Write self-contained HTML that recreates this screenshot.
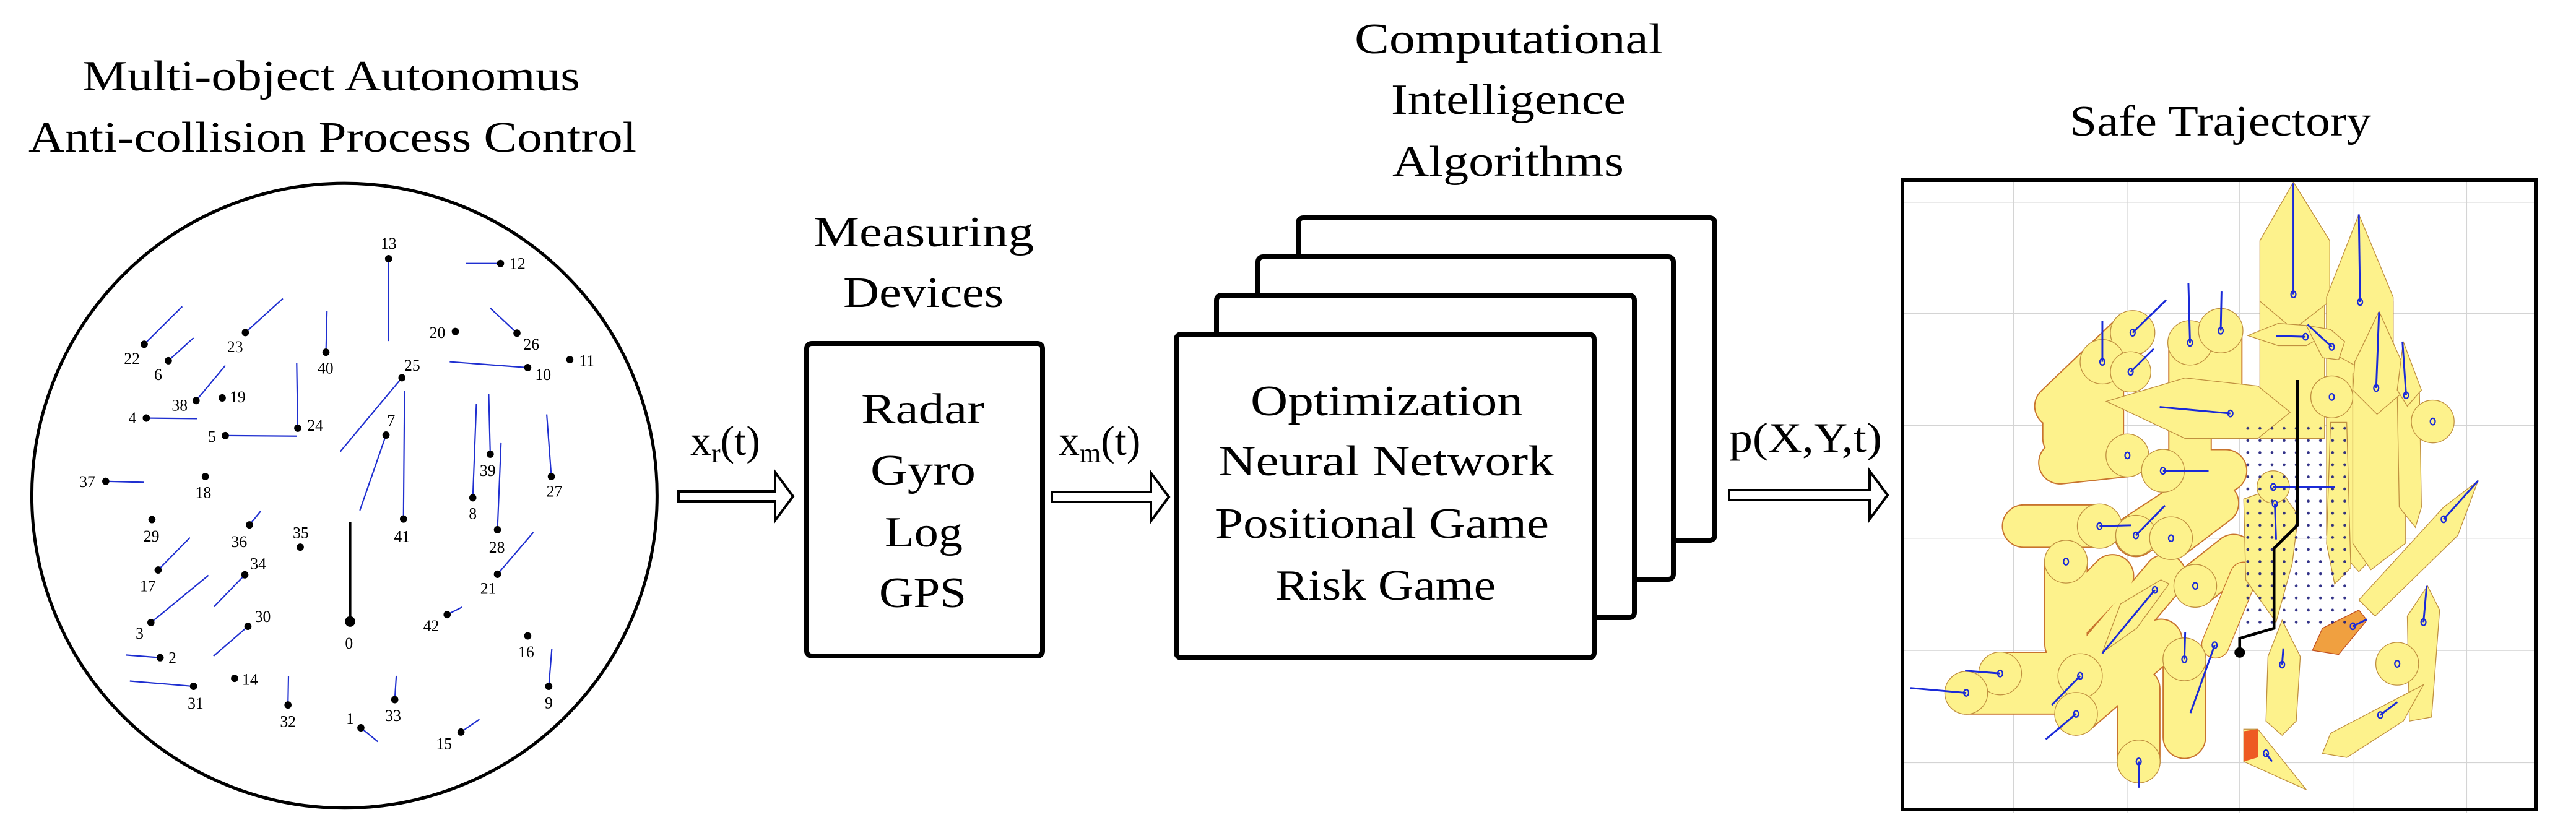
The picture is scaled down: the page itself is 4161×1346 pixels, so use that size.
<!DOCTYPE html>
<html><head><meta charset="utf-8"><style>html,body{margin:0;padding:0;background:#fff}svg{display:block}</style></head>
<body>
<svg width="4161" height="1346" viewBox="0 0 4161 1346" xmlns="http://www.w3.org/2000/svg" font-family="'Liberation Serif', serif">
<rect width="4161" height="1346" fill="#fff"/>
<!-- Titles -->
<g font-size="70" fill="#000" text-anchor="start">
<text x="133" y="146" textLength="804" lengthAdjust="spacingAndGlyphs">Multi-object Autonomus</text>
<text x="46" y="245" textLength="982" lengthAdjust="spacingAndGlyphs">Anti-collision Process Control</text>
<text x="1314" y="398" textLength="356" lengthAdjust="spacingAndGlyphs">Measuring</text>
<text x="1362" y="496" textLength="259" lengthAdjust="spacingAndGlyphs">Devices</text>
<text x="2188" y="86" textLength="498" lengthAdjust="spacingAndGlyphs">Computational</text>
<text x="2247" y="184" textLength="379" lengthAdjust="spacingAndGlyphs">Intelligence</text>
<text x="2249" y="284" textLength="374" lengthAdjust="spacingAndGlyphs">Algorithms</text>
<text x="3343" y="219" textLength="487" lengthAdjust="spacingAndGlyphs">Safe Trajectory</text>
</g>

<!-- Left circle diagram -->
<g transform="scale(0.8292,0.8584)">
<ellipse cx="671" cy="933" rx="609" ry="588" fill="none" stroke="#000" stroke-width="6"/>
<g stroke="#1f2fd0" stroke-width="2.6" fill="none">
<line x1="757" y1="487" x2="757" y2="642"/>
<line x1="975" y1="496" x2="907" y2="496"/>
<line x1="281" y1="648" x2="355" y2="577"/>
<line x1="328" y1="679" x2="377" y2="636"/>
<line x1="478" y1="626" x2="551" y2="562"/>
<line x1="635" y1="663" x2="637" y2="586"/>
<line x1="1007" y1="627" x2="955" y2="580"/>
<line x1="1028" y1="692" x2="876" y2="681"/>
<line x1="783" y1="711" x2="663" y2="850"/>
<line x1="382" y1="754" x2="439" y2="688"/>
<line x1="285" y1="787" x2="384" y2="788"/>
<line x1="580" y1="806" x2="578" y2="683"/>
<line x1="439" y1="820" x2="578" y2="821"/>
<line x1="752" y1="819" x2="701" y2="961"/>
<line x1="786" y1="977" x2="788" y2="736"/>
<line x1="955" y1="855" x2="952" y2="742"/>
<line x1="921" y1="937" x2="928" y2="760"/>
<line x1="1074" y1="897" x2="1065" y2="780"/>
<line x1="969" y1="997" x2="976" y2="834"/>
<line x1="206" y1="906" x2="280" y2="908"/>
<line x1="486" y1="988" x2="508" y2="962"/>
<line x1="308" y1="1073" x2="370" y2="1012"/>
<line x1="477" y1="1082" x2="417" y2="1142"/>
<line x1="969" y1="1081" x2="1039" y2="1002"/>
<line x1="294" y1="1172" x2="406" y2="1083"/>
<line x1="483" y1="1179" x2="416" y2="1235"/>
<line x1="871" y1="1157" x2="900" y2="1143"/>
<line x1="312" y1="1238" x2="245" y2="1233"/>
<line x1="377" y1="1292" x2="253" y2="1282"/>
<line x1="561" y1="1327" x2="562" y2="1273"/>
<line x1="769" y1="1317" x2="772" y2="1272"/>
<line x1="1069" y1="1292" x2="1075" y2="1221"/>
<line x1="703" y1="1370" x2="736" y2="1396"/>
<line x1="898" y1="1378" x2="934" y2="1354"/>
</g>
<line x1="682" y1="1170" x2="682" y2="982" stroke="#000" stroke-width="5"/>
<g fill="#000">
<circle cx="757" cy="487" r="7"/><circle cx="975" cy="496" r="7"/><circle cx="281" cy="648" r="7"/>
<circle cx="328" cy="679" r="7"/><circle cx="478" cy="626" r="7"/><circle cx="635" cy="663" r="7"/>
<circle cx="887" cy="624" r="7"/><circle cx="1007" cy="627" r="7"/><circle cx="1110" cy="677" r="7"/>
<circle cx="1028" cy="692" r="7"/><circle cx="783" cy="711" r="7"/><circle cx="382" cy="754" r="7"/>
<circle cx="433" cy="749" r="7"/><circle cx="285" cy="787" r="7"/><circle cx="580" cy="806" r="7"/>
<circle cx="439" cy="820" r="7"/><circle cx="752" cy="819" r="7"/><circle cx="786" cy="977" r="7"/>
<circle cx="955" cy="855" r="7"/><circle cx="921" cy="937" r="7"/><circle cx="1074" cy="897" r="7"/>
<circle cx="969" cy="997" r="7"/><circle cx="206" cy="906" r="7"/><circle cx="400" cy="897" r="7"/>
<circle cx="296" cy="978" r="7"/><circle cx="486" cy="988" r="7"/><circle cx="585" cy="1030" r="7"/>
<circle cx="308" cy="1073" r="7"/><circle cx="477" cy="1082" r="7"/><circle cx="969" cy="1081" r="7"/>
<circle cx="682" cy="1170" r="10"/><circle cx="294" cy="1172" r="7"/><circle cx="483" cy="1179" r="7"/>
<circle cx="871" cy="1157" r="7"/><circle cx="1028" cy="1197" r="7"/><circle cx="312" cy="1238" r="7"/>
<circle cx="457" cy="1277" r="7"/><circle cx="377" cy="1292" r="7"/><circle cx="561" cy="1327" r="7"/>
<circle cx="769" cy="1317" r="7"/><circle cx="1069" cy="1292" r="7"/><circle cx="703" cy="1370" r="7"/>
<circle cx="898" cy="1378" r="7"/>
</g>
<g font-size="31" fill="#000" text-anchor="middle" dominant-baseline="central">
<text x="757" y="458">13</text><text x="1008" y="496">12</text><text x="257" y="675">22</text>
<text x="308" y="705">6</text><text x="458" y="653">23</text><text x="634" y="693">40</text>
<text x="852" y="626">20</text><text x="1035" y="648">26</text><text x="1143" y="679">11</text>
<text x="1058" y="705">10</text><text x="803" y="688">25</text><text x="350" y="763">38</text>
<text x="463" y="747">19</text><text x="258" y="787">4</text><text x="614" y="801">24</text>
<text x="413" y="822">5</text><text x="762" y="792">7</text><text x="783" y="1010">41</text>
<text x="950" y="886">39</text><text x="921" y="967">8</text><text x="1080" y="925">27</text>
<text x="968" y="1030">28</text><text x="170" y="907">37</text><text x="396" y="927">18</text>
<text x="295" y="1009">29</text><text x="466" y="1020">36</text><text x="586" y="1003">35</text>
<text x="288" y="1103">17</text><text x="503" y="1061">34</text><text x="951" y="1108">21</text>
<text x="680" y="1211">0</text><text x="272" y="1192">3</text><text x="512" y="1161">30</text>
<text x="840" y="1178">42</text><text x="1025" y="1227">16</text><text x="336" y="1238">2</text>
<text x="487" y="1279">14</text><text x="381" y="1324">31</text><text x="561" y="1358">32</text>
<text x="766" y="1347">33</text><text x="1069" y="1323">9</text><text x="682" y="1353">1</text>
<text x="865" y="1400">15</text>
</g>
</g>

<!-- Arrows -->
<g fill="#fff" stroke="#000" stroke-width="4" stroke-linejoin="miter">
<polygon points="1096,794 1252,794 1252,763 1281,802 1252,841 1252,810 1096,810"/>
<polygon points="1699,795 1859,795 1859,764 1888,803 1859,842 1859,811 1699,811"/>
<polygon points="2793,792 3020,792 3020,761 3049,800 3020,839 3020,808 2793,808"/>
</g>
<g font-size="68" fill="#000">
<text x="1115" y="735">x<tspan font-size="44" dy="12">r</tspan><tspan dy="-12">(t)</tspan></text>
<text x="1710" y="735">x<tspan font-size="44" dy="12">m</tspan><tspan dy="-12">(t)</tspan></text>
<text x="2793" y="730" textLength="247" lengthAdjust="spacingAndGlyphs">p(X,Y,t)</text>
</g>

<!-- Measuring box -->
<rect x="1303" y="555" width="381" height="505" rx="8" fill="#fff" stroke="#000" stroke-width="8"/>
<g font-size="70" fill="#000">
<text x="1391" y="684" textLength="199" lengthAdjust="spacingAndGlyphs">Radar</text>
<text x="1406" y="783" textLength="170" lengthAdjust="spacingAndGlyphs">Gyro</text>
<text x="1429" y="883" textLength="126" lengthAdjust="spacingAndGlyphs">Log</text>
<text x="1420" y="981" textLength="141" lengthAdjust="spacingAndGlyphs">GPS</text>
</g>

<!-- Stacked boxes -->
<g fill="#fff" stroke="#000" stroke-width="8">
<rect x="2097" y="352" width="673" height="521" rx="8"/>
<rect x="2032" y="415" width="671" height="521" rx="8"/>
<rect x="1965" y="477" width="675" height="521" rx="8"/>
<rect x="1900" y="540" width="675" height="523" rx="8"/>
</g>
<g font-size="70" fill="#000">
<text x="2020" y="671" textLength="440" lengthAdjust="spacingAndGlyphs">Optimization</text>
<text x="1968" y="768" textLength="542" lengthAdjust="spacingAndGlyphs">Neural Network</text>
<text x="1963" y="869" textLength="539" lengthAdjust="spacingAndGlyphs">Positional Game</text>
<text x="2060" y="969" textLength="356" lengthAdjust="spacingAndGlyphs">Risk Game</text>
</g>

<!-- Plot -->
<g transform="translate(3073,291) scale(0.6524)">
<defs>
<pattern id="dots" width="30" height="30" patternUnits="userSpaceOnUse"><circle cx="15" cy="15" r="3.5" fill="#1a1a7a"/></pattern>
</defs>
<g stroke="#d4d4d4" stroke-width="2">
<line x1="275" y1="0" x2="275" y2="1568"/><line x1="558" y1="0" x2="558" y2="1568"/>
<line x1="835" y1="0" x2="835" y2="1568"/><line x1="1118" y1="0" x2="1118" y2="1568"/>
<line x1="1397" y1="0" x2="1397" y2="1568"/>
<line x1="0" y1="55" x2="1568" y2="55"/><line x1="0" y1="330" x2="1568" y2="330"/>
<line x1="0" y1="608" x2="1568" y2="608"/><line x1="0" y1="887" x2="1568" y2="887"/>
<line x1="0" y1="1165" x2="1568" y2="1165"/><line x1="0" y1="1443" x2="1568" y2="1443"/>
</g>
<!-- stacks (capsules) -->
<g stroke-linecap="round" fill="none">
<g stroke="#c8742e" stroke-width="108">
<path d="M570 378 L380 560"/><path d="M495 450 L495 640"/><path d="M712 403 L712 680"/><path d="M788 373 L788 520"/>
<path d="M400 560 L400 640"/>
<path d="M557 682 L390 700"/><path d="M645 720 L800 720"/><path d="M488 857 L300 857"/>
<path d="M405 945 L405 1150"/><path d="M440 1228 L650 980"/><path d="M158 1270 L420 1270"/>
<path d="M242 1222 L420 1222"/><path d="M585 1440 L585 1260"/><path d="M698 1187 L698 1380"/>
<path d="M430 1322 L640 1140"/><path d="M578 880 L700 800"/><path d="M665 887 L780 800"/>
<path d="M725 1005 L820 930"/><path d="M405 1100 L520 980"/>
</g>
<g stroke="#fdf28c" stroke-width="102">
<path d="M570 378 L380 560"/><path d="M495 450 L495 640"/><path d="M712 403 L712 680"/><path d="M788 373 L788 520"/>
<path d="M400 560 L400 640"/>
<path d="M557 682 L390 700"/><path d="M645 720 L800 720"/><path d="M488 857 L300 857"/>
<path d="M405 945 L405 1150"/><path d="M440 1228 L650 980"/><path d="M158 1270 L420 1270"/>
<path d="M242 1222 L420 1222"/><path d="M585 1440 L585 1260"/><path d="M698 1187 L698 1380"/>
<path d="M430 1322 L640 1140"/><path d="M578 880 L700 800"/><path d="M665 887 L780 800"/>
<path d="M725 1005 L820 930"/><path d="M405 1100 L520 980"/>
</g>
<path d="M775 1150 L845 980" stroke="#c8742e" stroke-width="70"/>
<path d="M775 1150 L845 980" stroke="#fdf28c" stroke-width="66"/>
</g>
<!-- spindles -->
<g fill="#fdf28c" stroke="#c09040" stroke-width="2">
<polygon points="885,300 1045,300 1045,640 885,640"/>
<polygon points="1050,300 1215,300 1215,880 1130,970 1050,880"/>
<polygon points="1115,480 1245,480 1245,900 1160,965 1115,900"/>
<polygon points="1225,520 1280,520 1285,810 1270,860 1230,810"/>
<polygon points="968,5 1058,150 1058,300 968,370 885,300 885,150"/>
<polygon points="1130,85 1215,290 1215,420 1140,470 1050,420 1050,290"/>
<polygon points="1180,325 1245,470 1245,520 1175,580 1115,520 1120,450"/>
<polygon points="1240,400 1285,520 1250,560 1225,520"/>
<polygon points="505,548 700,490 880,510 960,575 880,640 700,640"/>
<polygon points="855,385 930,355 1000,360 1035,390 1000,410 930,410"/>
<polygon points="1000,360 1060,370 1095,400 1080,445 1040,440"/>
<polygon points="845,790 930,760 980,830 965,950 925,1095 850,990"/>
<polygon points="940,1090 985,1180 975,1340 940,1375 900,1340 905,1180"/>
<polygon points="1300,1005 1330,1065 1310,1330 1255,1340 1250,1080"/>
<polygon points="1040,1420 1060,1370 1290,1250 1240,1340 1100,1430"/>
<polygon points="1130,1040 1340,810 1425,745 1375,880 1170,1080"/>
<polygon points="495,1170 540,1050 640,990 660,1000 580,1110"/>
<polygon points="1060,600 1100,600 1110,960 1070,1000 1050,900"/>
</g>
<polygon points="845,1360 880,1360 1000,1510 845,1440" fill="#fdf28c" stroke="#c09040" stroke-width="2"/>
<polygon points="845,1365 880,1360 880,1430 845,1440" fill="#ee5a22"/>
<polygon points="1015,1165 1040,1110 1130,1065 1150,1090 1080,1175" fill="#f0a040" stroke="#c05020" stroke-width="2"/>
<!-- circles -->
<g fill="#fdf28c" stroke="#c09040" stroke-width="2">
<circle cx="570" cy="378" r="55"/><circle cx="495" cy="450" r="55"/><circle cx="565" cy="475" r="50"/>
<circle cx="712" cy="403" r="55"/><circle cx="788" cy="373" r="55"/><circle cx="1063" cy="537" r="52"/>
<circle cx="1313" cy="598" r="53"/><circle cx="557" cy="682" r="53"/><circle cx="645" cy="720" r="53"/>
<circle cx="488" cy="857" r="55"/><circle cx="578" cy="880" r="50"/><circle cx="665" cy="887" r="53"/>
<circle cx="405" cy="945" r="53"/><circle cx="725" cy="1005" r="53"/><circle cx="1225" cy="1198" r="53"/>
<circle cx="698" cy="1187" r="53"/><circle cx="440" cy="1228" r="55"/><circle cx="242" cy="1222" r="53"/>
<circle cx="158" cy="1270" r="53"/><circle cx="430" cy="1322" r="53"/><circle cx="585" cy="1440" r="53"/>
<circle cx="918" cy="760" r="40"/>
</g>
<rect x="840" y="600" width="260" height="510" fill="url(#dots)" opacity="0.9"/>
<!-- blue lines -->
<g stroke="#1a2ad8" stroke-width="4.5" fill="none">
<line x1="570" y1="378" x2="653" y2="297"/><line x1="495" y1="450" x2="495" y2="348"/>
<line x1="565" y1="475" x2="622" y2="418"/><line x1="712" y1="403" x2="708" y2="256"/>
<line x1="788" y1="373" x2="790" y2="276"/><line x1="968" y1="283" x2="968" y2="8"/>
<line x1="1133" y1="302" x2="1130" y2="85"/><line x1="998" y1="388" x2="925" y2="386"/>
<line x1="1063" y1="413" x2="1003" y2="358"/><line x1="1173" y1="515" x2="1180" y2="327"/>
<line x1="1247" y1="533" x2="1238" y2="400"/><line x1="812" y1="578" x2="637" y2="562"/>
<line x1="645" y1="720" x2="758" y2="720"/><line x1="918" y1="760" x2="1070" y2="760"/>
<line x1="922" y1="802" x2="925" y2="890"/><line x1="488" y1="857" x2="567" y2="855"/>
<line x1="578" y1="880" x2="650" y2="806"/><line x1="1340" y1="840" x2="1425" y2="745"/>
<line x1="625" y1="1015" x2="495" y2="1172"/><line x1="773" y1="1152" x2="713" y2="1320"/>
<line x1="698" y1="1187" x2="700" y2="1120"/><line x1="940" y1="1200" x2="943" y2="1160"/>
<line x1="1290" y1="1095" x2="1298" y2="1005"/><line x1="1115" y1="1105" x2="1150" y2="1088"/>
<line x1="1183" y1="1325" x2="1225" y2="1293"/><line x1="900" y1="1420" x2="915" y2="1440"/>
<line x1="242" y1="1222" x2="155" y2="1215"/><line x1="158" y1="1270" x2="20" y2="1258"/>
<line x1="440" y1="1228" x2="370" y2="1300"/><line x1="430" y1="1322" x2="355" y2="1385"/>
<line x1="585" y1="1440" x2="585" y2="1505"/>
</g>
<g stroke="#1a2ad8" stroke-width="3.5" fill="none">
<ellipse cx="570" cy="378" rx="6" ry="8"/><ellipse cx="495" cy="450" rx="6" ry="8"/><ellipse cx="565" cy="475" rx="6" ry="8"/>
<ellipse cx="712" cy="403" rx="6" ry="8"/><ellipse cx="788" cy="373" rx="6" ry="8"/><ellipse cx="968" cy="283" rx="6" ry="8"/>
<ellipse cx="1133" cy="302" rx="6" ry="8"/><ellipse cx="998" cy="388" rx="6" ry="8"/><ellipse cx="1063" cy="413" rx="6" ry="8"/>
<ellipse cx="1173" cy="515" rx="6" ry="8"/><ellipse cx="1247" cy="533" rx="6" ry="8"/><ellipse cx="1063" cy="537" rx="6" ry="8"/>
<ellipse cx="1313" cy="598" rx="6" ry="8"/><ellipse cx="812" cy="578" rx="6" ry="8"/><ellipse cx="557" cy="682" rx="6" ry="8"/>
<ellipse cx="645" cy="720" rx="6" ry="8"/><ellipse cx="918" cy="760" rx="6" ry="8"/><ellipse cx="922" cy="802" rx="6" ry="8"/>
<ellipse cx="488" cy="857" rx="6" ry="8"/><ellipse cx="578" cy="880" rx="6" ry="8"/><ellipse cx="665" cy="887" rx="6" ry="8"/>
<ellipse cx="1340" cy="840" rx="6" ry="8"/><ellipse cx="405" cy="945" rx="6" ry="8"/><ellipse cx="725" cy="1005" rx="6" ry="8"/>
<ellipse cx="625" cy="1015" rx="6" ry="8"/><ellipse cx="773" cy="1152" rx="6" ry="8"/><ellipse cx="698" cy="1187" rx="6" ry="8"/>
<ellipse cx="940" cy="1200" rx="6" ry="8"/><ellipse cx="1290" cy="1095" rx="6" ry="8"/><ellipse cx="1115" cy="1105" rx="6" ry="8"/>
<ellipse cx="1225" cy="1198" rx="6" ry="8"/><ellipse cx="1183" cy="1325" rx="6" ry="8"/><ellipse cx="900" cy="1420" rx="6" ry="8"/>
<ellipse cx="242" cy="1222" rx="6" ry="8"/><ellipse cx="158" cy="1270" rx="6" ry="8"/><ellipse cx="440" cy="1228" rx="6" ry="8"/>
<ellipse cx="430" cy="1322" rx="6" ry="8"/><ellipse cx="585" cy="1440" rx="6" ry="8"/>
</g>
<polyline points="978,495 978,855 920,912 920,1110 835,1135 835,1170" fill="none" stroke="#000" stroke-width="7"/>
<circle cx="835" cy="1170" r="13" fill="#000"/>
</g>
<rect x="3073" y="291" width="1023" height="1017" fill="none" stroke="#000" stroke-width="6"/>
</svg>
</body></html>
